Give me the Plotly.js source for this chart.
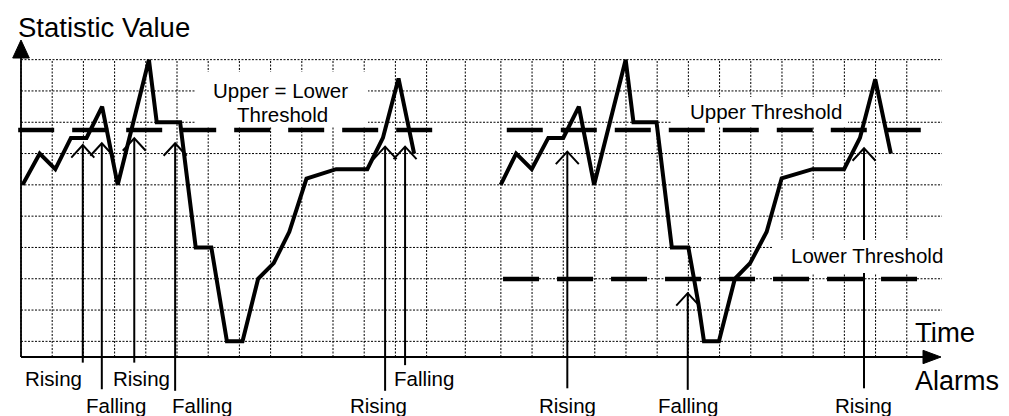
<!DOCTYPE html>
<html>
<head>
<meta charset="utf-8">
<script src="https://cdn.plot.ly/plotly-3.0.1.min.js"></script>
<style>
html,body{margin:0;padding:0;background:#fff;}
#chart{width:1009px;height:416px;}
</style>
</head>
<body>
<div id="chart"></div>
<script>
// ---------- DATA (time and statistic value in grid-cell units) ----------
const timeLeft  = [0.05,0.6,1.1,1.6,2.1,2.6,3.1,4.1,4.35,5.1,5.6,6.1,6.6,7.1,7.6,8.1,8.6,9.15,10.1,11.1,11.6,12.1,12.6];
const valueLeft = [5.5,6.5,6.0,7.0,7.0,8.0,5.5,9.5,7.5,7.5,3.5,3.5,0.5,0.5,2.5,3.0,4.0,5.7,6.0,6.0,7.0,8.9,6.5];

const timeRight  = [15.375,15.87,16.37,16.9,17.38,17.88,18.37,19.38,19.63,20.37,20.86,21.39,21.71,21.89,22.37,22.88,23.37,23.9,24.38,25.37,26.38,26.89,27.38,27.88];
const valueRight = [5.5,6.5,6.0,7.0,7.0,8.0,5.5,9.5,7.5,7.5,3.5,3.5,1.72,0.5,0.5,2.5,3.0,4.0,5.71,6.0,6.0,7.0,8.87,6.5];

// thresholds: [xStart, xEnd], level
const thrLeftX = [-0.09, 13.2];      const thrLeftY = 7.25;   // Upper = Lower
const thrUpperX = [15.57, 28.87];    const thrUpperY = 7.25;  // Upper (right)
const thrLowerX = [15.45, 28.74];    const thrLowerY = 2.49;  // Lower (right)

// alarms: position, arrow tip level, arrow tail level
const alarmX    = [1.98, 2.59, 3.63, 4.94, 11.67, 12.31, 17.51, 21.37, 27.02];
const alarmTip  = [6.77, 6.83, 6.99, 6.83, 6.72, 6.72, 6.56, 2.04, 6.67];
const alarmTail = [-0.18,-1.03,-0.18,-1.08,-1.08,-0.26,-1.0,-1.05,-1.0];

// alarm labels
const labelText = ["Rising","Falling","Rising","Falling","Rising","Falling","Rising","Falling","Rising"];
const labelX    = [1.04, 3.05, 3.86, 5.79, 11.46, 12.91, 17.53, 21.37, 27.0];
const labelRow  = [1, 2, 1, 2, 2, 1, 2, 2, 2];

// grid lines
const gridX = [0,1,2,3,4,5,6,7,8,9,10,11,12,13,14.24,15.38,16.38,17.38,18.39,19.39,20.39,21.39,22.39,23.39,24.39,25.39,26.39,27.39,28.39];
const gridY = [0.5,1.5,2.5,3.5,4.5,5.5,6.5,7.5,8.5,9.5];
const gridXEnd = 29.52;

// ---------- STYLE / LAYOUT ----------
const PX_X = 31.2, PX_Y = 31.3;          // pixels per unit
const W = 1009, H = 416, X0 = 21, Y0 = 357;
const xRange = [-X0/PX_X, (W-X0)/PX_X];
const yRange = [(Y0-H)/PX_Y, Y0/PX_Y];
const FONT = '"Liberation Sans", Arial, Helvetica, sans-serif';

const traces = [];
// statistic lines
[[timeLeft,valueLeft],[timeRight,valueRight]].forEach(([x,y]) => {
  traces.push({x:x, y:y, type:'scatter', mode:'lines', line:{color:'#000', width:4}, hoverinfo:'skip', showlegend:false});
});
// thresholds
[[thrLeftX,thrLeftY],[thrUpperX,thrUpperY],[thrLowerX,thrLowerY]].forEach(([xs,lv]) => {
  traces.push({x:xs, y:[lv,lv], type:'scatter', mode:'lines', line:{color:'#000', width:4.5, dash:'36px,18px'}, hoverinfo:'skip', showlegend:false});
});
// alarm arrows
const headDX = 11.5/PX_X, headDY = 12.5/PX_Y;
const ax = [], ay = [];
alarmX.forEach((x,i) => {
  const t = alarmTip[i];
  ax.push(x, x, null, x-headDX, x, x+headDX, null);
  ay.push(alarmTail[i], t, null, t-headDY, t, t-headDY, null);
});
traces.push({x:ax, y:ay, type:'scatter', mode:'lines', line:{color:'#000', width:2}, hoverinfo:'skip', showlegend:false, connectgaps:false});

const shapes = [];
const gridLine = {color:'#000', width:1, dash:'2px,1.5px'};
gridY.forEach(v => shapes.push({type:'line', xref:'x', yref:'y', x0:0, x1:gridXEnd, y0:v, y1:v, line:gridLine, layer:'below'}));
gridX.forEach(v => shapes.push({type:'line', xref:'x', yref:'y', x0:v, x1:v, y0:0, y1:gridY[gridY.length-1], line:gridLine, layer:'below'}));

// axes with arrows
const yArrowBase = (Y0-58)/PX_Y, yArrowTip = (Y0-40)/PX_Y, yArrowHalf = 8.3/PX_X;
const xArrowBase = (923-X0)/PX_X, xArrowTip = (941-X0)/PX_X, xArrowHalf = 6.7/PX_Y;
shapes.push({type:'line', xref:'x', yref:'y', x0:0, x1:0, y0:0, y1:yArrowBase, line:{color:'#000', width:1.8}, layer:'below'});
shapes.push({type:'line', xref:'x', yref:'y', x0:0, x1:xArrowBase, y0:0, y1:0, line:{color:'#000', width:1.8}, layer:'below'});
shapes.push({type:'path', xref:'x', yref:'y', path:`M ${-yArrowHalf} ${yArrowBase} L 0 ${yArrowTip} L ${yArrowHalf} ${yArrowBase} Z`, fillcolor:'#000', line:{color:'#000', width:1}, layer:'below'});
shapes.push({type:'path', xref:'x', yref:'y', path:`M ${xArrowBase} ${xArrowHalf} L ${xArrowTip} 0 L ${xArrowBase} ${-xArrowHalf} Z`, fillcolor:'#000', line:{color:'#000', width:1}, layer:'below'});

// white boxes behind threshold captions
const boxes = [
  [(195-X0)/PX_X, (368-X0)/PX_X, (Y0-127)/PX_Y, (Y0-72)/PX_Y],
  [(672-X0)/PX_X, (848-X0)/PX_X, (Y0-127)/PX_Y, (Y0-97)/PX_Y],
  [(772-X0)/PX_X, (950-X0)/PX_X, (Y0-273)/PX_Y, (Y0-240)/PX_Y]
];
boxes.forEach(b => shapes.push({type:'rect', xref:'x', yref:'y', x0:b[0], x1:b[1], y0:b[2], y1:b[3], fillcolor:'#fff', line:{width:0}, layer:'above'}));

const annotations = [];
const rowY = {1: (Y0-378)/PX_Y, 2: (Y0-405)/PX_Y};
labelText.forEach((t,i) => annotations.push({text:t, x:labelX[i], y:rowY[labelRow[i]], xref:'x', yref:'y', showarrow:false, xanchor:'center', yanchor:'middle', font:{family:FONT, size:20.5, color:'#000'}}));

const cap = (text, x, y, size, xanchor) => annotations.push({text:text, x:x, y:y, xref:'x', yref:'y', showarrow:false, xanchor:xanchor||'center', yanchor:'middle', font:{family:FONT, size:size, color:'#000'}});
cap('Upper = Lower', 8.33, (Y0-90)/PX_Y, 20.5);
cap('Threshold', 8.37, (Y0-114)/PX_Y, 20.5);
cap('Upper Threshold', 23.87, (Y0-111.5)/PX_Y, 20.5);
cap('Lower Threshold', 27.13, (Y0-255.5)/PX_Y, 20.5);
cap('Statistic Value', (16-X0)/PX_X, (Y0-27)/PX_Y, 27.5, 'left');
cap('Time', (913-X0)/PX_X, (Y0-332)/PX_Y, 27.5, 'left');
cap('Alarms', (913-X0)/PX_X, (Y0-381)/PX_Y, 27, 'left');

const axisStyle = {showgrid:false, zeroline:false, showticklabels:false, showline:false, ticks:'', fixedrange:true};
const layout = {
  width:W, height:H,
  margin:{l:0, r:0, t:0, b:0, pad:0},
  paper_bgcolor:'#fff', plot_bgcolor:'#fff',
  xaxis:Object.assign({range:xRange}, axisStyle),
  yaxis:Object.assign({range:yRange}, axisStyle),
  shapes:shapes,
  annotations:annotations,
  showlegend:false
};
Plotly.newPlot('chart', traces, layout, {displayModeBar:false, staticPlot:true});
</script>
</body>
</html>
